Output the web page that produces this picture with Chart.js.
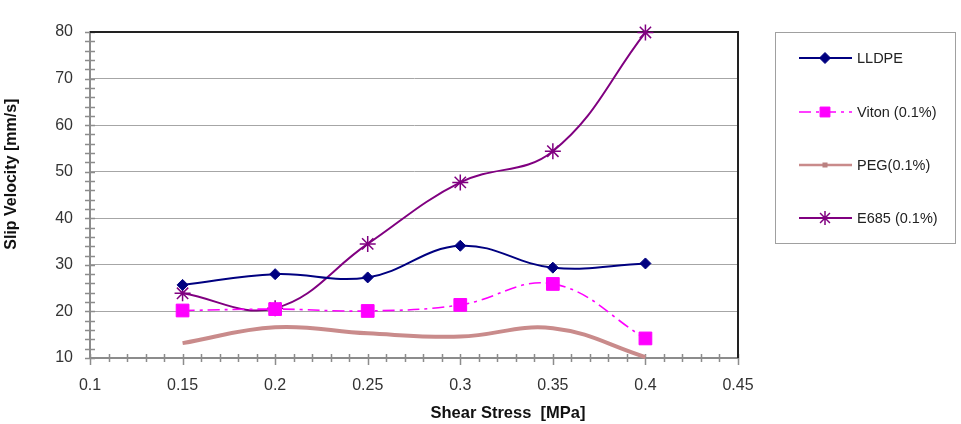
<!DOCTYPE html>
<html><head><meta charset="utf-8">
<script src="https://cdn.jsdelivr.net/npm/chart.js@4/dist/chart.umd.min.js"></script>
<style>html,body{margin:0;padding:0;background:#fff;} #wrap{width:961px;height:424px;position:relative}</style>
</head><body><div id="wrap"><canvas id="c" width="961" height="424"></canvas></div>
<script>
// ---- data ----
const shearStress = [0.15, 0.2, 0.25, 0.3, 0.35, 0.4];
const lldpe = [25.7, 28.0, 27.3, 34.1, 29.4, 30.3];
const viton = [20.2, 20.5, 20.1, 21.4, 25.9, 14.2];
const peg   = [13.2, 16.6, 15.3, 14.6, 16.4, 10.2];
const e685  = [23.9, 20.7, 34.5, 47.7, 54.4, 79.9];
const seriesNames = ['LLDPE', 'Viton (0.1%)', 'PEG(0.1%)', 'E685 (0.1%)'];
const xTickValues = [0.1, 0.15, 0.2, 0.25, 0.3, 0.35, 0.4, 0.45];
const yTickValues = [10, 20, 30, 40, 50, 60, 70, 80];
const xTitle = 'Shear Stress  [MPa]';
const yTitle = 'Slip Velocity [mm/s]';
const minorXStep = 0.01, minorYStep = 2;

const FONT = '"Liberation Sans", Arial, sans-serif';
const pts = arr => shearStress.map((x, i) => ({x: x, y: arr[i]}));

const datasets = [
  {label: seriesNames[0], data: pts(lldpe), borderColor: '#000080', backgroundColor: '#000080',
   borderWidth: 2, pointStyle: 'rectRot', pointRadius: 5.5, pointBorderWidth: 1, tension: 0.4, clip: false},
  {label: seriesNames[1], data: pts(viton), borderColor: '#ff00ff', backgroundColor: '#ff00ff',
   borderWidth: 1.6, borderDash: [12, 5, 3, 5], pointStyle: 'rect', pointRadius: 9, pointBorderWidth: 1, tension: 0.4, clip: false},
  {label: seriesNames[2], data: pts(peg), borderColor: '#c98b8b', backgroundColor: '#b98080',
   borderWidth: 4, pointStyle: 'rect', pointRadius: 0, tension: 0.4, clip: false, legendRadius: 2.5},
  {label: seriesNames[3], data: pts(e685), borderColor: '#800080', backgroundColor: '#800080',
   borderWidth: 2, pointStyle: 'star', pointRadius: 8, pointBorderWidth: 1.5, tension: 0.4, clip: false}
];

const framePlugin = {
  id: 'frame',
  beforeDatasetsDraw(chart) {
    const ctx = chart.ctx, a = chart.chartArea;
    const xs = chart.scales.x, ys = chart.scales.y;
    ctx.save();
    ctx.strokeStyle = '#8c8c8c';
    ctx.lineWidth = 1.5;
    ctx.beginPath();
    for (let v = ys.min; v <= ys.max + 1e-9; v += minorYStep) {
      const y = Math.round(ys.getPixelForValue(v)) + 0.5;
      ctx.moveTo(a.left - 5, y); ctx.lineTo(a.left + 5, y);
    }
    for (let k = 0; k <= Math.round((xs.max - xs.min) / minorXStep); k++) {
      const v = xs.min + k * minorXStep;
      const x = Math.round(xs.getPixelForValue(v)) + 0.5;
      const major = (k % 5 === 0);
      ctx.moveTo(x, a.bottom - 4); ctx.lineTo(x, a.bottom + (major ? 7 : 4));
    }
    ctx.stroke();
    ctx.strokeStyle = '#222';
    ctx.lineWidth = 2;
    ctx.beginPath();
    ctx.moveTo(a.left, a.top); ctx.lineTo(a.right, a.top); ctx.lineTo(a.right, a.bottom);
    ctx.stroke();
    ctx.restore();
  },
  afterDraw(chart) {
    const ctx = chart.ctx, a = chart.chartArea;
    ctx.save();
    ctx.fillStyle = '#111';
    ctx.font = 'bold 16.5px ' + FONT;
    ctx.textAlign = 'center';
    ctx.textBaseline = 'middle';
    ctx.fillText(xTitle, a.left + (a.right - a.left) * 0.645, 413);
    ctx.font = 'bold 16px ' + FONT;
    ctx.save();
    ctx.translate(12, a.top + (a.bottom - a.top) * 0.436);
    ctx.rotate(-Math.PI / 2);
    ctx.fillText(yTitle, 0, 0);
    ctx.restore();
    // legend box
    const L = a.right + 37, T = a.top, W = 180, H = 211;
    ctx.strokeStyle = '#a0a0a0';
    ctx.lineWidth = 1;
    ctx.strokeRect(L + 0.5, T + 0.5, W, H);
    const rows = [26, 80, 133, 186];
    chart.data.datasets.forEach((ds, i) => {
      const y = T + rows[i];
      ctx.save();
      ctx.strokeStyle = ds.borderColor;
      ctx.lineWidth = Math.min(ds.borderWidth, 2.5);
      ctx.setLineDash(ds.borderDash || []);
      ctx.beginPath(); ctx.moveTo(L + 24, y); ctx.lineTo(L + 77, y); ctx.stroke();
      ctx.setLineDash([]);
      const r = ds.legendRadius || ds.pointRadius;
      ctx.fillStyle = ds.backgroundColor;
      ctx.strokeStyle = ds.backgroundColor;
      ctx.lineWidth = ds.pointBorderWidth || 1.5;
      if (Chart.helpers && Chart.helpers.drawPoint) {
        Chart.helpers.drawPoint(ctx, {pointStyle: ds.pointStyle, radius: Math.min(r, 7), rotation: 0, borderWidth: ctx.lineWidth}, L + 50, y);
      }
      ctx.restore();
      ctx.fillStyle = '#222';
      ctx.font = '14.5px ' + FONT;
      ctx.textAlign = 'left';
      ctx.textBaseline = 'middle';
      ctx.fillText(ds.label, L + 82, y + 1);
    });
    ctx.restore();
  }
};

new Chart(document.getElementById('c'), {
  type: 'line',
  data: {datasets: datasets},
  plugins: [framePlugin],
  options: {
    responsive: false,
    animation: false,
    devicePixelRatio: 1,
    layout: {padding: {left: 0, right: 223, top: 32, bottom: 0}},
    plugins: {legend: {display: false}, tooltip: {enabled: false}},
    scales: {
      x: {
        type: 'linear', min: 0.1, max: 0.45,
        afterBuildTicks: s => { s.ticks = xTickValues.map(v => ({value: v})); },
        afterFit: s => { s.height = 66; },
        ticks: {font: {family: FONT, size: 16}, color: '#333', padding: 18, maxRotation: 0,
                callback: v => String(v)},
        grid: {drawOnChartArea: false, drawTicks: false},
        border: {color: '#8c8c8c', width: 2}
      },
      y: {
        min: 10, max: 80,
        afterBuildTicks: s => { s.ticks = yTickValues.map(v => ({value: v})); },
        afterFit: s => { s.width = 90; },
        ticks: {font: {family: FONT, size: 16}, color: '#333', padding: 17,
                callback: v => String(v)},
        grid: {color: '#a6a6a6', lineWidth: 1, drawTicks: false},
        border: {color: '#8c8c8c', width: 2}
      }
    }
  }
});
</script>
</body></html>
